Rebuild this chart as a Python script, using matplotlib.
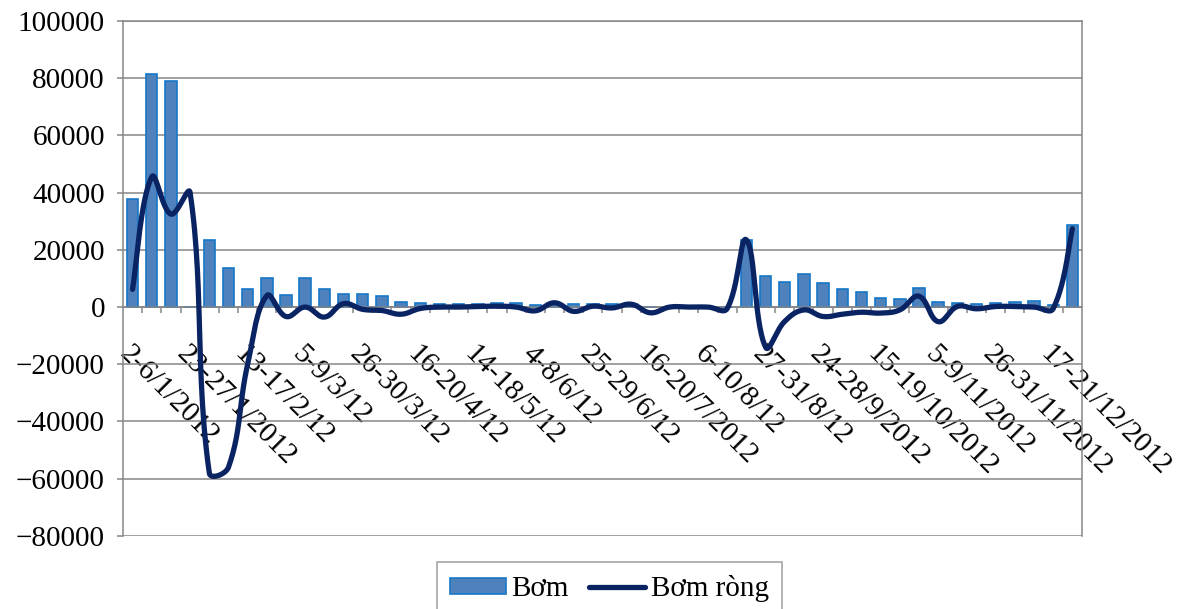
import numpy as np
import matplotlib
matplotlib.use('Agg')
from matplotlib import pyplot as plt

plt.rcParams['font.family'] = ['Liberation Serif', 'DejaVu Serif']

# weekly open-market operations, 2012 (50 weeks)
bom = [37900, 81500, 79000, 0, 23300, 13600, 6400, 10300, 4300, 10000,
       6400, 4400, 4400, 3900, 1800, 1400, 1200, 1000, 900, 1300,
       1300, 600, 1500, 1000, 1000, 1000, 1200, 0, 0, 0,
       0, 0, 23500, 10900, 8800, 11500, 8500, 6400, 5200, 3200,
       2700, 6700, 1700, 1400, 1100, 1400, 1800, 2000, 800, 28600]
bom_rong = [6200, 45500, 32500, 40000, -58000, -56000, -20000, 4000, -3300, 0,
            -3500, 1200, -800, -1200, -2500, -500, 0, 0, 200, 300,
            0, -1300, 1500, -1500, 300, -300, 1000, -2000, 0, 0,
            0, -500, 23500, -14000, -5000, -1000, -3300, -2500, -1800, -2100,
            -1000, 3800, -5100, 200, -600, 200, 200, 0, -500, 27400]
tick_labels = ['2-6/1/2012', '23-27/1/2012', '13-17/2/12', '5-9/3/12', '26-30/3/12',
               '16-20/4/12', '14-18/5/12', '4-8/6/12', '25-29/6/12', '16-20/7/2012',
               '6-10/8/12', '27-31/8/12', '24-28/9/2012', '15-19/10/2012',
               '5-9/11/2012', '26-31/11/2012', '17-21/12/2012']


def smooth(xs, ys, sx, sy, s=0.4, n=30):
    # Excel-like smoothed line: cubic bezier with control points scaled by segment length
    P = np.column_stack([np.asarray(xs, float) * sx, np.asarray(ys, float) * sy])
    m = len(P)
    d = np.hypot(*np.diff(P, axis=0).T)
    c_after, c_before = np.zeros_like(P), np.zeros_like(P)
    for i in range(m):
        if i == 0:
            c_after[i] = P[0] + (P[1] - P[0]) * s / 2
            continue
        if i == m - 1:
            c_before[i] = P[i] - (P[i] - P[i - 1]) * s / 2
            continue
        T = P[i + 1] - P[i - 1]
        tot = d[i - 1] + d[i]
        c_after[i] = P[i] + T * s * d[i] / tot
        c_before[i] = P[i] - T * s * d[i - 1] / tot
    t = np.linspace(0, 1, n)[:, None]
    out = []
    for i in range(m - 1):
        b = ((1 - t) ** 3 * P[i] + 3 * (1 - t) ** 2 * t * c_after[i]
             + 3 * (1 - t) * t ** 2 * c_before[i + 1] + t ** 3 * P[i + 1])
        out.append(b if i == 0 else b[1:])
    out = np.vstack(out)
    return out[:, 0] / sx, out[:, 1] / sy


x = np.arange(len(bom))

fig = plt.figure(figsize=(11.88, 6.09), dpi=100)
ax = fig.add_axes([0.1035, 0.12, 0.8073, 0.8455])

bars = ax.bar(x, bom, width=0.6, color='#4F81BD', edgecolor='#1677C8', linewidth=1.2,
              label='Bơm', zorder=2)
lx, ly = smooth(x, bom_rong, 19.19, 2.82e-3)
line, = ax.plot(lx, ly, color='#0A2463', lw=3.8, solid_capstyle='round',
                label='Bơm ròng', zorder=3)

ax.set_xlim(-0.5, len(bom) - 0.5)
ax.set_ylim(-80000, 100000)
ax.set_yticks(np.arange(-80000, 100001, 20000))
ax.yaxis.grid(True, color='#868686', lw=1.1)
ax.set_axisbelow(True)

for side in ['left', 'right', 'top', 'bottom']:
    ax.spines[side].set_color('#868686')
    ax.spines[side].set_linewidth(1.1)
ax.spines['bottom'].set_position(('data', 0))

ax.set_xticks(x[::3])
ax.set_xticklabels(tick_labels, rotation=-45, ha='left', rotation_mode='anchor', fontsize=21)
ax.set_xticks(x[:-1] + 0.5, minor=True)
ax.tick_params(axis='x', which='major', length=0, pad=24)
ax.tick_params(axis='x', which='minor', length=4.5, color='#868686', width=1.1)
ax.tick_params(axis='y', length=4, color='#868686', width=1.1, labelsize=21, pad=9)

leg = ax.legend([bars, line], ['Bơm', 'Bơm ròng'], loc='upper center',
                bbox_to_anchor=(0.513, 0.077), bbox_transform=fig.transFigure,
                ncol=2, fontsize=21, frameon=True, fancybox=False,
                handlelength=1.9, handletextpad=0.2, handleheight=0.5,
                columnspacing=0.7, borderpad=0.45, borderaxespad=0)
leg.get_frame().set_edgecolor('#868686')
leg.get_frame().set_linewidth(1.1)

plt.savefig('out.png', dpi=100)
